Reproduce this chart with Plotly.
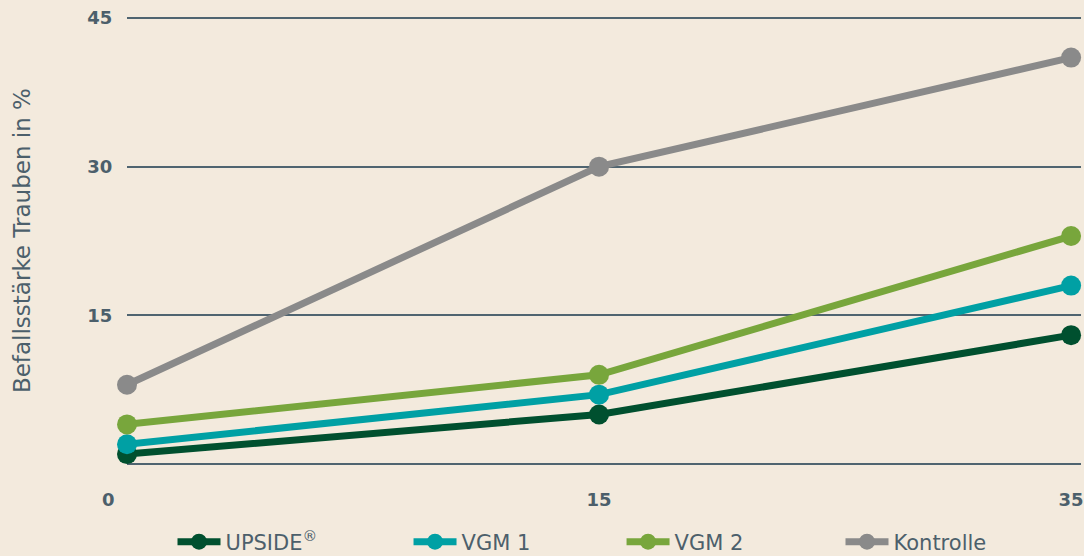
import plotly.graph_objects as go

days = ["0", "15", "35"]
day_labels = ["0\u00a0\u00a0\u00a0\u00a0\u00a0\u00a0", "15", "35"]
series_names = ["UPSIDE<sup>®</sup>", "VGM 1", "VGM 2", "Kontrolle"]
upside = [1, 5, 13]
vgm1 = [2, 7, 18]
vgm2 = [4, 9, 23]
kontrolle = [8, 30, 41]
colors = ["#00502f", "#00a0a4", "#78a63c", "#8a8a8a"]
y_ticks = [15, 30, 45]
y_tick_labels = ["15", "30", "45"]

text_color = "#4c5f6b"
grid_color = "#4f6470"
bg = "#f3eadd"
font_family = "DejaVu Sans"

legend_ids = ["legend", "legend2", "legend3", "legend4"]
legend_x = [0.0477, 0.2951, 0.5184, 0.7479]

fig = go.Figure()
for name, vals, col, lid in zip(series_names, [upside, vgm1, vgm2, kontrolle], colors, legend_ids):
    fig.add_trace(go.Scatter(
        x=days, y=vals, name=name, mode="lines+markers",
        line=dict(color=col, width=7),
        marker=dict(color=col, size=20),
        cliponaxis=False, legend=lid,
    ))

legend_common = dict(
    orientation="h", xanchor="left", y=-0.166, yanchor="middle",
    font=dict(size=21, color=text_color),
    itemwidth=43, bgcolor="rgba(0,0,0,0)",
)

fig.update_layout(
    width=1084, height=556,
    paper_bgcolor=bg, plot_bgcolor=bg,
    margin=dict(l=127, r=3, t=15, b=89, autoexpand=False),
    font=dict(family=font_family, color=text_color),
    showlegend=True,
    legend=dict(x=legend_x[0], **legend_common),
    legend2=dict(x=legend_x[1], **legend_common),
    legend3=dict(x=legend_x[2], **legend_common),
    legend4=dict(x=legend_x[3], **legend_common),
    xaxis=dict(
        type="category", range=[0, 2.021],
        tickvals=days, ticktext=day_labels,
        showgrid=False, zeroline=False, showline=False,
        tickfont=dict(size=18, color=text_color, family=font_family, weight="bold"),
        ticks="outside", ticklen=16, tickcolor="rgba(0,0,0,0)",
    ),
    yaxis=dict(
        range=[-0.3, 45.3], tickvals=y_ticks, ticktext=y_tick_labels,
        showgrid=True, gridcolor=grid_color, gridwidth=2,
        zeroline=True, zerolinecolor=grid_color, zerolinewidth=2,
        showline=False,
        tickfont=dict(size=18, color=text_color, family=font_family, weight="bold"),
        ticks="outside", ticklen=10, tickcolor="rgba(0,0,0,0)",
    ),
    annotations=[dict(
        text="Befallsstärke Trauben in %", textangle=-90,
        xref="paper", yref="paper", x=-0.110, y=0.5,
        xanchor="center", yanchor="middle", showarrow=False,
        font=dict(size=23, color=text_color),
    )],
)

fig.write_html("out.html", config={"displayModeBar": False},
               post_script="document.body.style.margin='0';")
